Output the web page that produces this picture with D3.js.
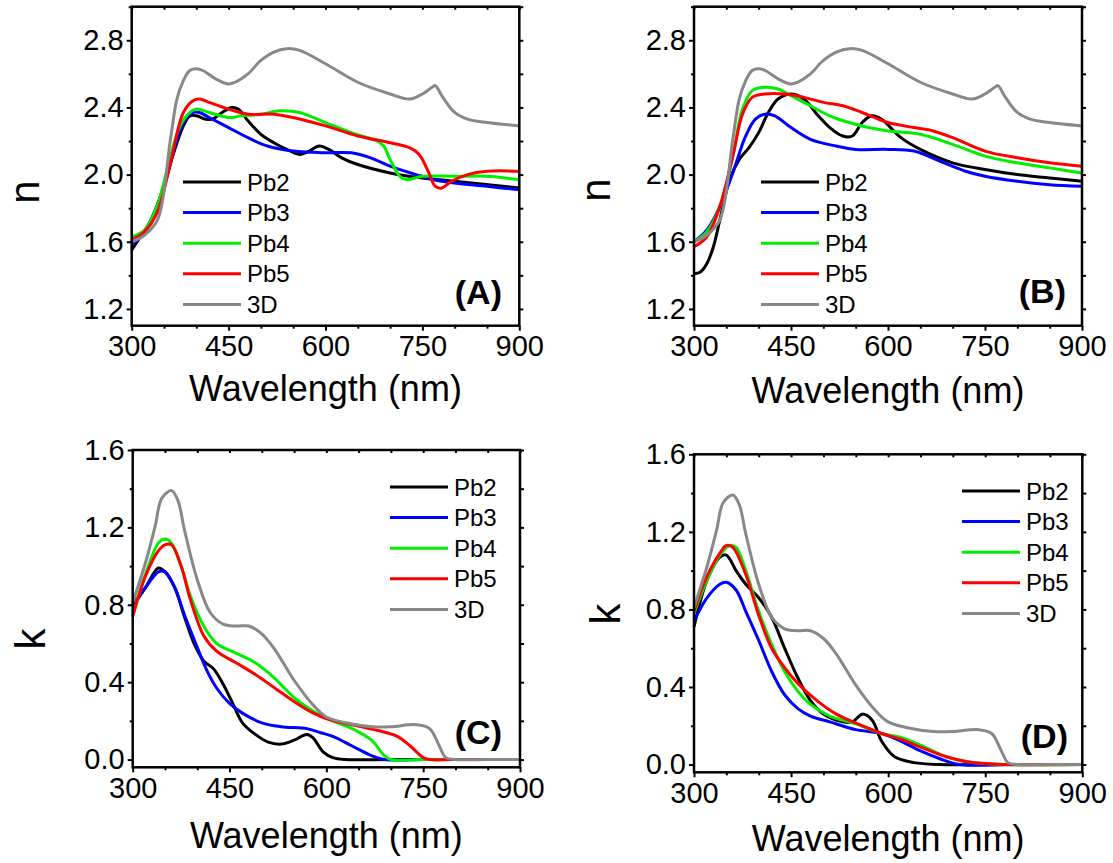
<!DOCTYPE html>
<html>
<head>
<meta charset="utf-8">
<script src="https://cdn.jsdelivr.net/npm/d3@7"></script>
<style>
  body { margin: 0; background: #fff; }
  text { font-family: "Liberation Sans", Arial, sans-serif; }
</style>
</head>
<body>
<svg id="chart" width="1113" height="863"></svg>
<script>
// ---- data: [wavelength nm, value] ----
var seriesNames = ["Pb2", "Pb3", "Pb4", "Pb5", "3D"];
var seriesColors = ["#000000", "#0000ff", "#00ee00", "#ff0000", "#888888"];
var xTicks = [300, 450, 600, 750, 900];
var nTicks = [1.2, 1.6, 2.0, 2.4, 2.8];
var kTicks = [0.0, 0.4, 0.8, 1.2, 1.6];

// refractive index n, 3D reference (same in A and B)
var n3D = [[300,1.60],[320,1.64],[340,1.73],[360,2.21],[370,2.45],[380,2.56],[390,2.62],[400,2.63],[410,2.62],
  [430,2.57],[450,2.54],[460,2.55],[480,2.60],[500,2.68],[520,2.73],[540,2.75],[560,2.74],[600,2.66],[650,2.55],
  [700,2.48],[730,2.45],[750,2.48],[765,2.52],[770,2.53],[780,2.47],[800,2.37],[820,2.33],[850,2.31],[900,2.29]];

// panel A
var nA_Pb2 = [[300,1.55],[310,1.61],[330,1.73],[350,1.93],[365,2.13],[380,2.29],[390,2.35],[400,2.35],[415,2.33],
  [425,2.33],[440,2.37],[455,2.40],[465,2.39],[480,2.32],[500,2.24],[520,2.19],[540,2.15],[560,2.12],[575,2.14],
  [590,2.17],[605,2.15],[625,2.10],[650,2.06],[700,2.01],[750,1.98],[800,1.96],[900,1.92]];
var nA_Pb3 = [[300,1.58],[320,1.66],[340,1.82],[360,2.07],[380,2.31],[395,2.37],[405,2.37],[420,2.34],[450,2.28],
  [480,2.22],[510,2.17],[550,2.14],[600,2.13],[640,2.13],[670,2.10],[700,2.05],[740,2.00],[780,1.96],[850,1.93],[900,1.91]];
var nA_Pb4 = [[300,1.63],[320,1.67],[340,1.82],[360,2.11],[375,2.29],[390,2.37],[400,2.39],[420,2.37],[450,2.34],
  [470,2.35],[500,2.36],[530,2.38],[560,2.37],[600,2.31],[640,2.25],[680,2.20],[690,2.17],[700,2.09],[715,1.99],
  [725,1.97],[750,1.99],[800,1.99],[850,1.99],[900,1.97]];
var nA_Pb5 = [[300,1.61],[320,1.66],[340,1.78],[360,2.07],[380,2.37],[395,2.44],[405,2.45],[420,2.43],[450,2.39],
  [480,2.36],[520,2.36],[550,2.34],[600,2.29],[650,2.23],[700,2.19],[730,2.16],[745,2.12],[760,2.01],[770,1.93],
  [780,1.92],[795,1.96],[820,2.00],[850,2.02],[900,2.02]];

// panel B
var nB_Pb2 = [[300,1.41],[310,1.42],[320,1.47],[330,1.57],[340,1.73],[355,1.97],[370,2.09],[385,2.16],[400,2.25],
  [415,2.37],[430,2.45],[450,2.48],[470,2.45],[490,2.36],[510,2.28],[530,2.23],[545,2.23],[560,2.31],[575,2.35],
  [590,2.33],[620,2.22],[650,2.15],[700,2.07],[750,2.03],[800,2.00],[850,1.98],[900,1.96]];
var nB_Pb3 = [[300,1.60],[320,1.67],[340,1.81],[360,2.01],[380,2.23],[395,2.33],[410,2.36],[425,2.35],[450,2.28],
  [480,2.21],[520,2.17],[550,2.15],[600,2.15],[640,2.14],[680,2.08],[720,2.02],[750,1.99],[800,1.96],[850,1.94],[900,1.93]];
var nB_Pb4 = [[300,1.60],[320,1.66],[340,1.81],[360,2.11],[375,2.39],[390,2.50],[410,2.52],[430,2.51],[450,2.47],
  [480,2.41],[510,2.35],[540,2.31],[570,2.28],[600,2.26],[650,2.24],[700,2.18],[750,2.11],[800,2.07],[850,2.04],[900,2.01]];
var nB_Pb5 = [[300,1.57],[320,1.63],[340,1.81],[360,2.11],[375,2.36],[390,2.46],[410,2.48],[440,2.48],[470,2.46],
  [500,2.43],[530,2.41],[560,2.37],[600,2.31],[640,2.28],[670,2.26],[700,2.22],[750,2.14],[800,2.10],[850,2.07],[900,2.05]];

// extinction coefficient k, 3D reference (same in C and D)
var k3D = [[300,0.81],[320,1.02],[335,1.21],[345,1.35],[360,1.39],[370,1.34],[380,1.19],[400,0.93],[420,0.76],
  [440,0.70],[460,0.69],[480,0.69],[500,0.65],[520,0.57],[550,0.41],[580,0.28],[600,0.22],[630,0.19],[670,0.17],
  [700,0.17],[740,0.18],[760,0.16],[775,0.07],[785,0.01],[800,0.0],[850,0.0],[900,0.0]];

// panel C
var kC_Pb2 = [[300,0.79],[320,0.89],[340,0.99],[350,0.97],[365,0.89],[380,0.74],[395,0.60],[410,0.51],[425,0.47],
  [440,0.39],[455,0.29],[470,0.19],[490,0.13],[510,0.09],[530,0.08],[550,0.10],[570,0.13],[580,0.11],[595,0.04],
  [610,0.01],[630,0.0],[700,0.0],[800,0.0],[900,0.0]];
var kC_Pb3 = [[300,0.80],[320,0.89],[340,0.97],[350,0.97],[365,0.89],[380,0.75],[400,0.58],[415,0.46],[430,0.37],
  [450,0.29],[470,0.24],[500,0.19],[530,0.17],[570,0.16],[590,0.14],[610,0.12],[640,0.07],[670,0.02],[690,0.0],
  [750,0.0],[800,0.0],[900,0.0]];
var kC_Pb4 = [[300,0.74],[320,0.96],[340,1.12],[350,1.14],[360,1.12],[375,1.00],[390,0.84],[410,0.69],[430,0.60],
  [460,0.55],[490,0.50],[520,0.42],[550,0.32],[580,0.25],[610,0.20],[640,0.16],[670,0.10],[690,0.02],[700,0.0],
  [750,0.0],[800,0.0],[900,0.0]];
var kC_Pb5 = [[300,0.74],[320,0.95],[340,1.08],[350,1.11],[360,1.11],[375,1.00],[390,0.82],[410,0.64],[430,0.56],
  [460,0.50],[490,0.44],[520,0.37],[550,0.30],[580,0.24],[610,0.20],[640,0.18],[680,0.15],[710,0.12],[730,0.07],
  [750,0.01],[760,0.0],[800,0.0],[900,0.0]];

// panel D
var kD_Pb2 = [[300,0.71],[320,0.95],[340,1.07],[350,1.08],[365,1.00],[380,0.93],[400,0.86],[420,0.76],[440,0.60],
  [460,0.45],[480,0.33],[500,0.26],[530,0.22],[545,0.22],[560,0.26],[575,0.23],[590,0.12],[610,0.04],[640,0.01],
  [680,0.0],[750,0.0],[900,0.0]];
var kD_Pb3 = [[300,0.74],[320,0.86],[340,0.93],[350,0.94],[365,0.90],[380,0.79],[400,0.64],[420,0.48],[440,0.36],
  [460,0.29],[480,0.25],[510,0.22],[550,0.18],[590,0.16],[620,0.12],[650,0.07],[680,0.03],[710,0.0],[800,0.0],[900,0.0]];
var kD_Pb4 = [[300,0.78],[320,0.95],[340,1.08],[355,1.13],[365,1.12],[380,1.00],[400,0.79],[420,0.62],[440,0.48],
  [460,0.38],[480,0.31],[510,0.25],[550,0.21],[590,0.16],[620,0.14],[650,0.10],[690,0.04],[730,0.01],[780,0.0],[900,0.0]];
var kD_Pb5 = [[300,0.79],[320,0.97],[340,1.09],[350,1.13],[360,1.12],[380,0.98],[400,0.77],[420,0.60],[440,0.50],
  [460,0.42],[490,0.33],[520,0.26],[560,0.20],[590,0.16],[620,0.13],[650,0.09],[690,0.04],[730,0.01],[790,0.0],[900,0.0]];

var svg = d3.select("#chart");

function drawPanel(p) {
  var x = d3.scaleLinear().domain([300, 900]).range([p.left, p.right]);
  var y = d3.scaleLinear().domain(p.yDomain).range([p.bottom, p.top]);
  var g = svg.append("g");

  var line = d3.line()
    .x(function (d) { return x(d[0]); })
    .y(function (d) { return y(d[1]); })
    .curve(d3.curveCatmullRom.alpha(0.5));

  g.selectAll("path.curve").data(p.series).enter().append("path")
    .attr("class", "curve")
    .attr("fill", "none")
    .attr("stroke", function (d, i) { return seriesColors[i]; })
    .attr("stroke-width", 3)
    .attr("stroke-linejoin", "round")
    .attr("d", line);

  // minor ticks every 50 nm / 0.2
  var xMinor = d3.range(300, 901, 50).filter(function (v) { return xTicks.indexOf(v) < 0; });
  var yMinor = p.yMinor;

  function styleAxis(sel) {
    sel.select(".domain").remove();
    sel.selectAll(".tick line").attr("stroke", "#000").attr("stroke-width", 2);
    sel.selectAll(".tick text").attr("fill", "#000").style("font-size", "29px")
      .style("font-family", "'Liberation Sans', Arial, sans-serif");
  }

  g.append("g").attr("transform", "translate(0," + p.bottom + ")")
    .call(d3.axisBottom(x).tickValues(xTicks).tickSize(5).tickPadding(5).tickFormat(d3.format("d")))
    .call(styleAxis);
  g.append("g").attr("transform", "translate(0," + p.bottom + ")")
    .call(d3.axisBottom(x).tickValues(xMinor).tickSize(3).tickFormat(""))
    .call(styleAxis);
  g.append("g").attr("transform", "translate(0," + p.top + ")")
    .call(d3.axisBottom(x).tickValues(xTicks.concat(xMinor)).tickSize(3).tickFormat(""))
    .call(styleAxis);

  g.append("g").attr("transform", "translate(" + p.left + ",0)")
    .call(d3.axisLeft(y).tickValues(p.yTicks).tickSize(5).tickPadding(3).tickFormat(d3.format(".1f")))
    .call(styleAxis);
  g.append("g").attr("transform", "translate(" + p.left + ",0)")
    .call(d3.axisLeft(y).tickValues(yMinor).tickSize(3).tickFormat(""))
    .call(styleAxis);
  g.append("g").attr("transform", "translate(" + p.right + ",0)")
    .call(d3.axisRight(y).tickValues(p.yTicks.concat(yMinor)).tickSize(4).tickFormat(""))
    .call(styleAxis);

  // frame
  g.append("rect")
    .attr("x", p.left).attr("y", p.top)
    .attr("width", p.right - p.left).attr("height", p.bottom - p.top)
    .attr("fill", "none").attr("stroke", "#000").attr("stroke-width", 2.5);

  // axis titles
  g.append("text")
    .attr("x", (p.left + p.right) / 2).attr("y", p.xTitleY)
    .attr("text-anchor", "middle").style("font-size", "36px")
    .text("Wavelength (nm)");
  g.append("text")
    .attr("transform", "translate(" + p.yTitle[0] + "," + p.yTitle[1] + ") rotate(-90)")
    .attr("text-anchor", "middle").style("font-size", "42px")
    .text(p.yName);

  // legend
  var leg = g.selectAll("g.leg").data(seriesNames).enter().append("g")
    .attr("class", "leg")
    .attr("transform", function (d, i) { return "translate(" + p.legend[0] + "," + (p.legend[1] + i * 30.6) + ")"; });
  leg.append("line").attr("x1", 0).attr("x2", 58).attr("y1", 0).attr("y2", 0)
    .attr("stroke", function (d, i) { return seriesColors[i]; }).attr("stroke-width", 3);
  leg.append("text").attr("x", 64).attr("y", 8.5).style("font-size", "24px")
    .text(function (d) { return d; });

  // panel tag
  g.append("text")
    .attr("x", p.tag[0]).attr("y", p.tag[1])
    .attr("text-anchor", "end").style("font-size", "34px").style("font-weight", "bold")
    .text(p.tagText);
}

var nMinor = [1.4, 1.8, 2.2, 2.6, 3.0];
var kMinor = [0.2, 0.6, 1.0, 1.4];

drawPanel({ left: 131.7, right: 519.3, top: 6.7, bottom: 325.7, yDomain: [1.1, 3.0],
  yTicks: nTicks, yMinor: nMinor, series: [nA_Pb2, nA_Pb3, nA_Pb4, nA_Pb5, n3D],
  xTitleY: 401, yName: "n", yTitle: [39, 192], legend: [183, 182], tag: [502, 304], tagText: "(A)" });

drawPanel({ left: 694, right: 1082, top: 6.7, bottom: 325.7, yDomain: [1.1, 3.0],
  yTicks: nTicks, yMinor: nMinor, series: [nB_Pb2, nB_Pb3, nB_Pb4, nB_Pb5, n3D],
  xTitleY: 403, yName: "n", yTitle: [610, 190], legend: [761, 182], tag: [1066, 303], tagText: "(B)" });

drawPanel({ left: 132.7, right: 520, top: 450, bottom: 767.3, yDomain: [-0.04, 1.6],
  yTicks: kTicks, yMinor: kMinor, series: [kC_Pb2, kC_Pb3, kC_Pb4, kC_Pb5, k3D],
  xTitleY: 848, yName: "k", yTitle: [45, 639], legend: [390, 487], tag: [502, 744], tagText: "(C)" });

drawPanel({ left: 694, right: 1082.3, top: 454.3, bottom: 772.3, yDomain: [-0.04, 1.6],
  yTicks: kTicks, yMinor: kMinor, series: [kD_Pb2, kD_Pb3, kD_Pb4, kD_Pb5, k3D],
  xTitleY: 851, yName: "k", yTitle: [620, 614], legend: [962, 491], tag: [1068, 748], tagText: "(D)" });
</script>
</body>
</html>
